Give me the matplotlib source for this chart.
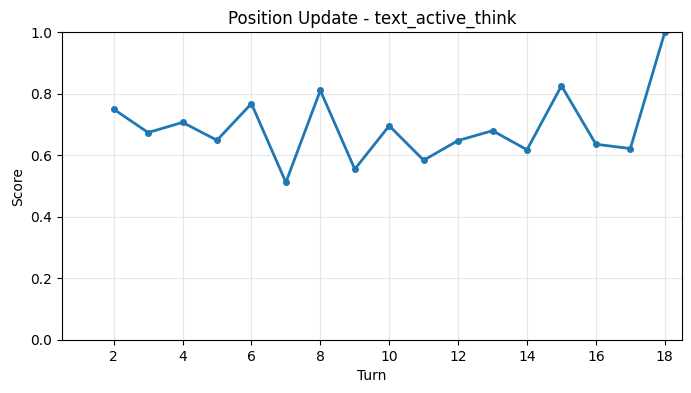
import matplotlib
matplotlib.use("Agg")
import matplotlib.pyplot as plt

turns = [2, 3, 4, 5, 6, 7, 8, 9, 10, 11, 12, 13, 14, 15, 16, 17, 18]
scores = [0.750, 0.674, 0.707, 0.649, 0.768, 0.512, 0.811, 0.555, 0.696,
          0.584, 0.648, 0.680, 0.618, 0.826, 0.636, 0.622, 1.000]
xticks = [2, 4, 6, 8, 10, 12, 14, 16, 18]

fig, ax = plt.subplots(figsize=(6.91, 3.93), dpi=100)
fig.subplots_adjust(left=0.0897, right=0.987, top=0.918, bottom=0.135)
ax.plot(turns, scores, marker="o", linewidth=2, markersize=4, color="#1f77b4")
ax.set_title("Position Update - text_active_think")
ax.set_xlabel("Turn")
ax.set_ylabel("Score")
ax.set_ylim(0, 1.0)
ax.set_xlim(0.5, 18.5)
ax.set_xticks(xticks)
ax.grid(True, alpha=0.3)
fig.savefig("out.png", dpi=100)
